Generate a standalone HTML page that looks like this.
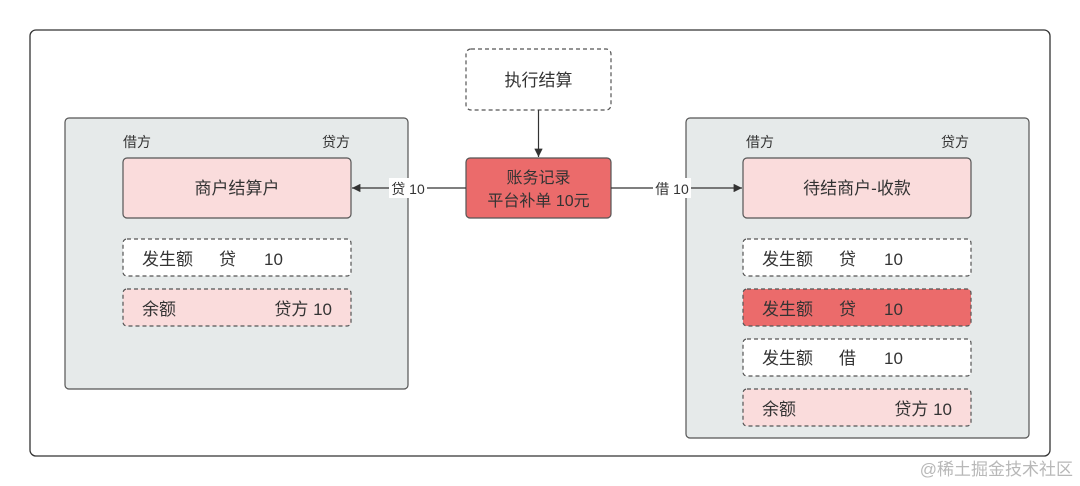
<!DOCTYPE html>
<html><head><meta charset="utf-8"><style>
html,body{margin:0;padding:0;background:#fff}
svg{display:block}
text{font-family:"Liberation Sans","Noto Sans CJK SC",sans-serif;fill:#333}
</style></head><body>
<svg width="1080" height="486" viewBox="0 0 1080 486" xmlns="http://www.w3.org/2000/svg">
<defs><marker id="ar" viewBox="0 0 10 10" refX="10" refY="5" markerWidth="7" markerHeight="7" orient="auto-start-reverse"><path d="M0,0 L10,5 L0,10 z" fill="#333"/></marker></defs>
<rect x="30" y="30" width="1020" height="426" rx="6" fill="#fff" stroke="#333" stroke-width="1.3"/>
<!-- containers -->
<rect x="65" y="118" width="343" height="271" rx="4" fill="#e6eaea" stroke="#555" stroke-width="1.2"/>
<rect x="686" y="118" width="343" height="320" rx="4" fill="#e6eaea" stroke="#555" stroke-width="1.2"/>
<!-- top -->
<rect x="466" y="49" width="145" height="61" rx="5" fill="#fff" stroke="#555" stroke-width="1.2" stroke-dasharray="4,3"/>
<text x="538.5" y="86" font-size="17" text-anchor="middle">执行结算</text>
<line x1="538.5" y1="110" x2="538.5" y2="157" stroke="#333" stroke-width="1.2" marker-end="url(#ar)"/>
<!-- center -->
<rect x="466" y="158" width="145" height="60" rx="4" fill="#eb6b6b" stroke="#555" stroke-width="1.2"/>
<text x="538.5" y="183" font-size="16" text-anchor="middle">账务记录</text>
<text x="538.5" y="206" font-size="16" text-anchor="middle">平台补单 10元</text>
<!-- arrows -->
<line x1="466" y1="188" x2="352" y2="188" stroke="#333" stroke-width="1.2" marker-end="url(#ar)"/>
<rect x="389" y="178" width="38" height="20" fill="#fff"/>
<text x="408" y="194" font-size="14" text-anchor="middle">贷 10</text>
<line x1="611" y1="188" x2="742" y2="188" stroke="#333" stroke-width="1.2" marker-end="url(#ar)"/>
<rect x="653" y="178" width="38" height="20" fill="#fff"/>
<text x="672" y="194" font-size="14" text-anchor="middle">借 10</text>
<!-- left -->
<text x="123" y="147" font-size="14">借方</text>
<text x="350" y="147" font-size="14" text-anchor="end">贷方</text>
<rect x="123" y="158" width="228" height="60" rx="4" fill="#fadcdc" stroke="#555" stroke-width="1.2"/>
<text x="237" y="194" font-size="17" text-anchor="middle">商户结算户</text>
<rect x="123" y="239" width="228" height="37" rx="4" fill="#fff" stroke="#555" stroke-width="1.2" stroke-dasharray="4,3"/>
<text x="142" y="265" font-size="17">发生额</text><text x="219" y="265" font-size="17">贷</text><text x="264" y="265" font-size="17">10</text>
<rect x="123" y="289" width="228" height="37" rx="4" fill="#fadcdc" stroke="#555" stroke-width="1.2" stroke-dasharray="4,3"/>
<text x="142" y="315" font-size="17">余额</text><text x="332" y="315" font-size="17" text-anchor="end">贷方 10</text>
<!-- right -->
<text x="746" y="147" font-size="14">借方</text>
<text x="969" y="147" font-size="14" text-anchor="end">贷方</text>
<rect x="743" y="158" width="228" height="60" rx="4" fill="#fadcdc" stroke="#555" stroke-width="1.2"/>
<text x="857" y="194" font-size="17" text-anchor="middle">待结商户-收款</text>
<rect x="743" y="239" width="228" height="37" rx="4" fill="#fff" stroke="#555" stroke-width="1.2" stroke-dasharray="4,3"/>
<text x="762" y="265" font-size="17">发生额</text><text x="839" y="265" font-size="17">贷</text><text x="884" y="265" font-size="17">10</text>
<rect x="743" y="289" width="228" height="37" rx="4" fill="#eb6b6b" stroke="#555" stroke-width="1.2" stroke-dasharray="4,3"/>
<text x="762" y="315" font-size="17">发生额</text><text x="839" y="315" font-size="17">贷</text><text x="884" y="315" font-size="17">10</text>
<rect x="743" y="339" width="228" height="37" rx="4" fill="#fff" stroke="#555" stroke-width="1.2" stroke-dasharray="4,3"/>
<text x="762" y="364" font-size="17">发生额</text><text x="839" y="364" font-size="17">借</text><text x="884" y="364" font-size="17">10</text>
<rect x="743" y="389" width="228" height="37" rx="4" fill="#fadcdc" stroke="#555" stroke-width="1.2" stroke-dasharray="4,3"/>
<text x="762" y="415" font-size="17">余额</text><text x="952" y="415" font-size="17" text-anchor="end">贷方 10</text>
<!-- watermark -->
<text x="1073" y="475" font-size="17" text-anchor="end" style="fill:#b8b8b8">@稀土掘金技术社区</text>
</svg>
</body></html>
